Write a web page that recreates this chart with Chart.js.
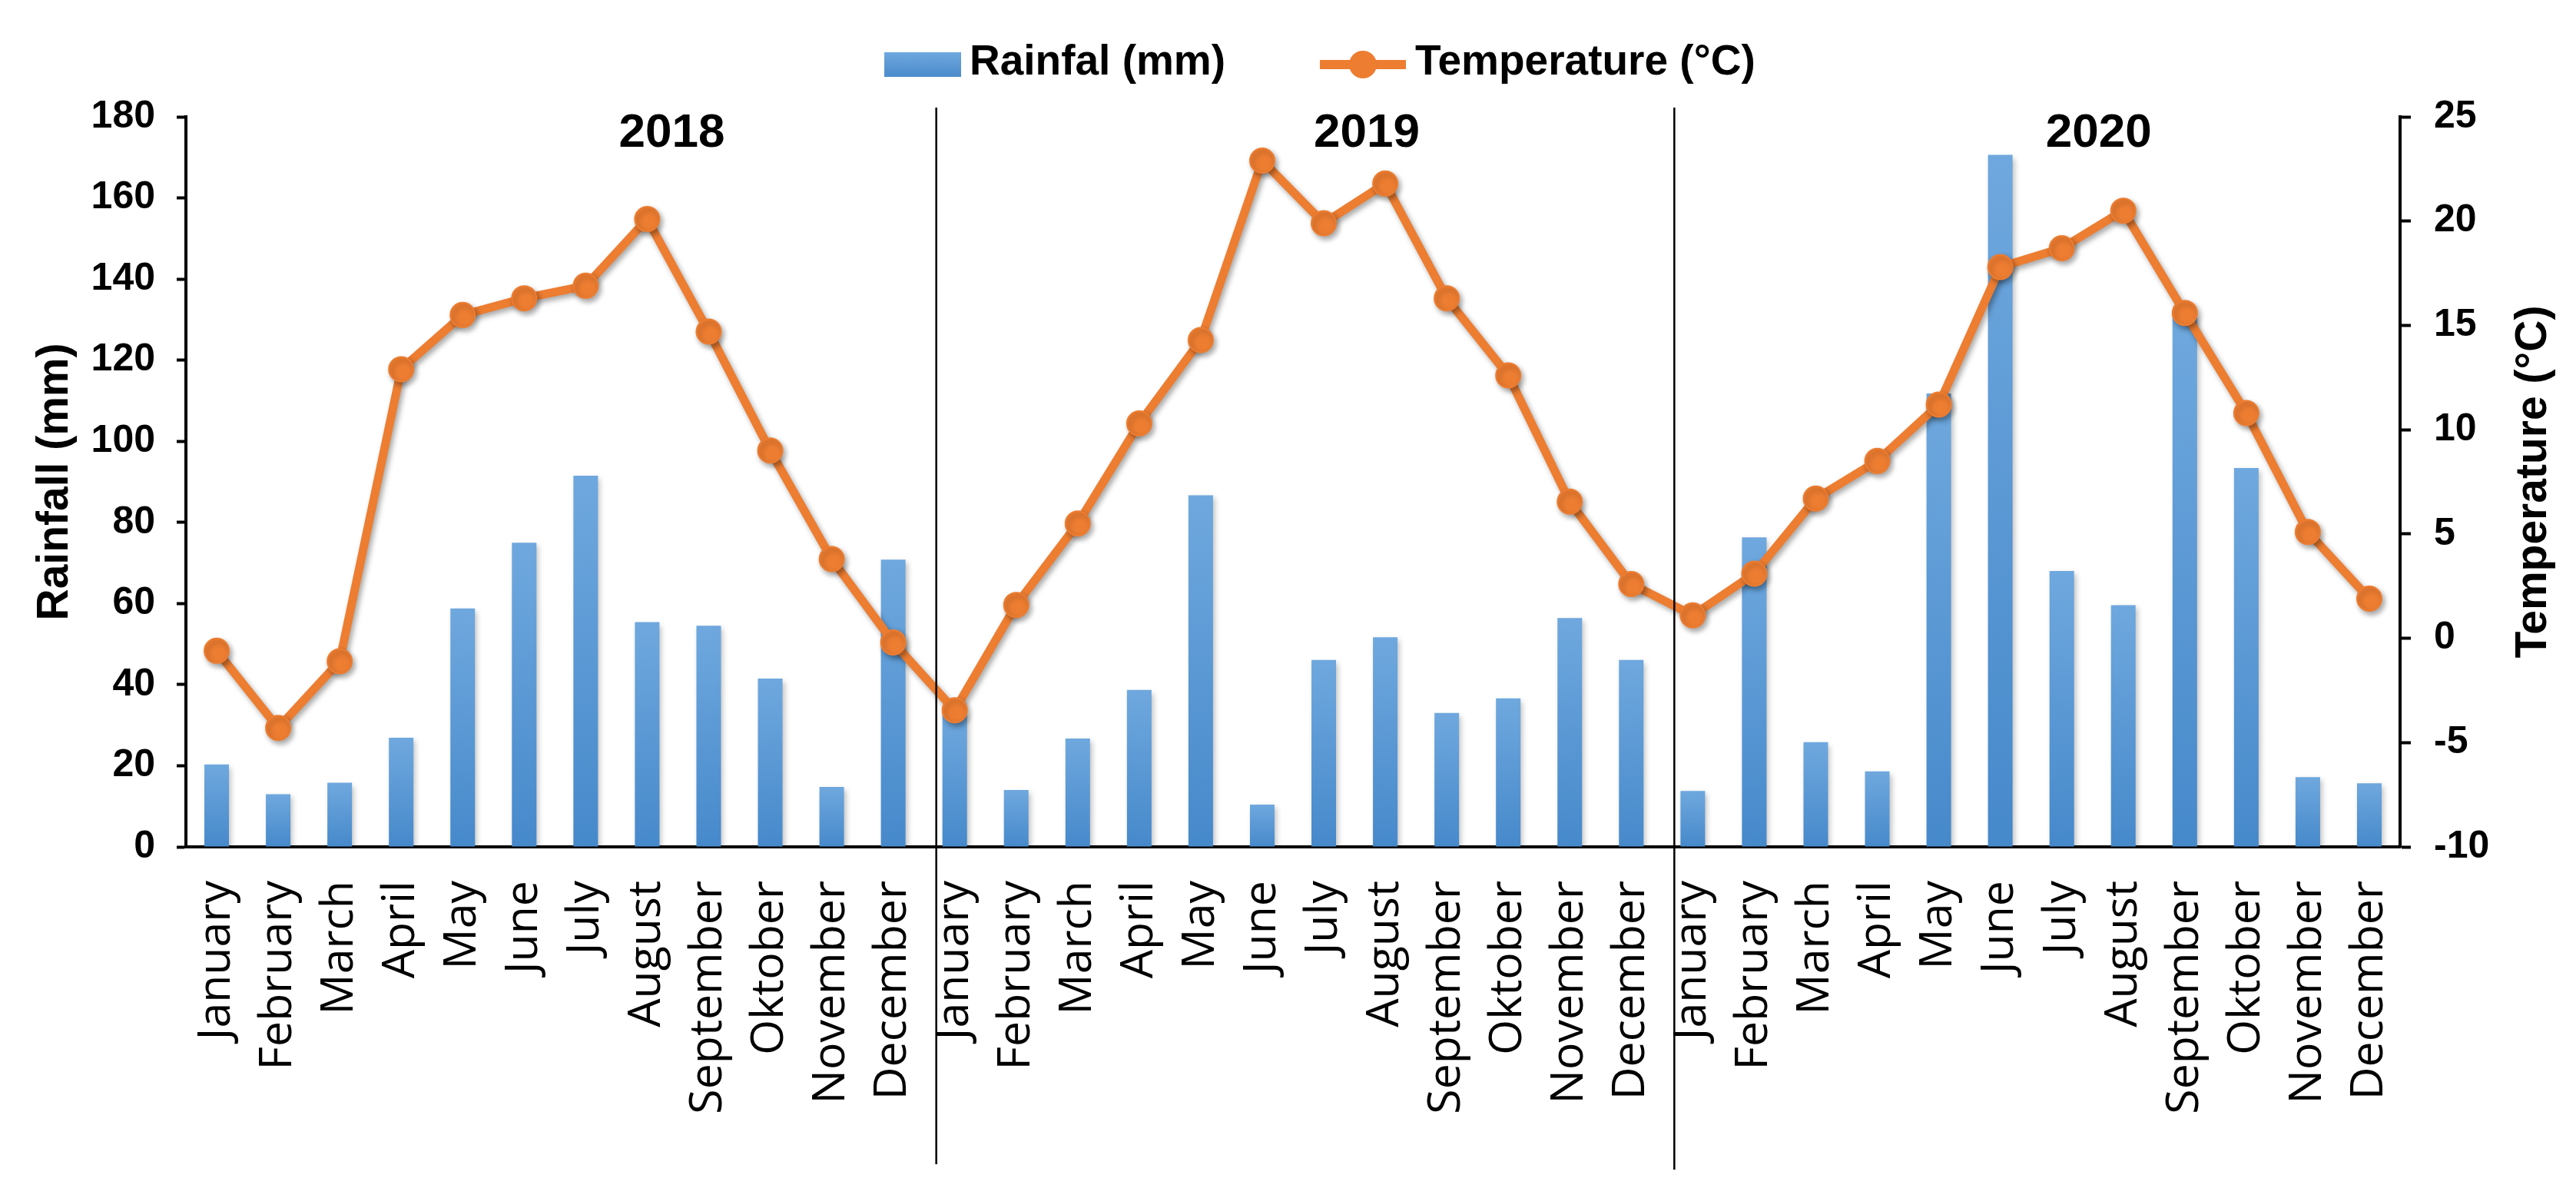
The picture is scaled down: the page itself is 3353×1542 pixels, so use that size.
<!DOCTYPE html>
<html><head><meta charset="utf-8">
<script src="https://cdn.jsdelivr.net/npm/chart.js@4.4.1/dist/chart.umd.min.js"></script>
<style>html,body{margin:0;padding:0;background:#fff;overflow:hidden}canvas{display:block}</style>
</head><body>
<canvas id="c" width="3353" height="1542" style="width:3353px;height:1542px"></canvas>
<script>
// ---- data ----
const months = ['January','February','March','April','May','June','July','August','September','Oktober','November','December'];
const years = ['2018','2019','2020'];
const rainfall2018 = [20.3, 13, 15.8, 26.9, 58.8, 75, 91.5, 55.4, 54.5, 41.5, 14.8, 70.8];
const rainfall2019 = [33, 14, 26.7, 38.7, 86.7, 10.4, 46.1, 51.7, 33, 36.6, 56.4, 46.1];
const rainfall2020 = [13.8, 76.3, 25.8, 18.6, 111.8, 170.6, 68, 59.6, 131, 93.4, 17.2, 15.7];
const temperature2018 = [-0.6, -4.3, -1.1, 12.9, 15.5, 16.3, 16.9, 20.1, 14.7, 9.0, 3.8, -0.2];
const temperature2019 = [-3.45, 1.6, 5.5, 10.3, 14.3, 22.9, 19.9, 21.8, 16.3, 12.6, 6.55, 2.6];
const temperature2020 = [1.1, 3.1, 6.7, 8.5, 11.2, 17.8, 18.7, 20.5, 15.6, 10.8, 5.1, 1.9];
const rainfallLabel = 'Rainfal (mm)';
const temperatureLabel = 'Temperature (°C)';
const leftTitle = 'Rainfall (mm)';
const rightTitle = 'Temperature (°C)';

const categories = years.flatMap(() => months);
const rainfall = [...rainfall2018, ...rainfall2019, ...rainfall2020];
const temperature = [...temperature2018, ...temperature2019, ...temperature2020];

const BOLD = '"Liberation Sans", Arial, sans-serif';
const ORANGE = '#ed7d31';

const shadowPlugin = {
  id: 'shadow',
  beforeDatasetDraw(chart, args) {
    const ctx = chart.ctx; ctx.save();
    ctx.shadowColor = args.index === 1 ? 'rgba(0,0,0,0.35)' : 'rgba(0,0,0,0.25)';
    ctx.shadowBlur = 7; ctx.shadowOffsetX = 3; ctx.shadowOffsetY = 4;
  },
  afterDatasetDraw(chart) { chart.ctx.restore(); }
};

const overlayPlugin = {
  id: 'overlay',
  afterDraw(chart) {
    const ctx = chart.ctx, x = chart.scales.x, ca = chart.chartArea;
    ctx.save();
    // year separators
    ctx.strokeStyle = '#000'; ctx.lineWidth = 2.5;
    [[11.7, 1515], [23.7, 1522]].forEach(([v, bottom]) => {
      const px = x.getPixelForValue(v);
      ctx.beginPath(); ctx.moveTo(px, ca.top - 12); ctx.lineTo(px, bottom); ctx.stroke();
    });
    // year labels
    ctx.fillStyle = '#000'; ctx.textAlign = 'center'; ctx.textBaseline = 'middle';
    ctx.font = 'bold 62px ' + BOLD;
    [7.4, 18.7, 30.6].forEach((v, i) => ctx.fillText(years[i], x.getPixelForValue(v), ca.top + 22));
    // axis titles
    ctx.font = 'bold 57px ' + BOLD;
    const cy = (ca.top + ca.bottom) / 2;
    ctx.save(); ctx.translate(72, cy); ctx.rotate(-Math.PI / 2); ctx.fillText(leftTitle, 0, 0); ctx.restore();
    ctx.save(); ctx.translate(3298, cy); ctx.rotate(-Math.PI / 2); ctx.fillText(rightTitle, 0, 0); ctx.restore();
    // legend
    ctx.font = 'bold 55px ' + BOLD; ctx.textAlign = 'left';
    const g = ctx.createLinearGradient(0, 68, 0, 100);
    g.addColorStop(0, '#6fa8de'); g.addColorStop(1, '#4a8bcb');
    ctx.fillStyle = g; ctx.fillRect(1151, 68, 100, 32);
    ctx.fillStyle = '#000'; ctx.fillText(rainfallLabel, 1262, 82);
    ctx.strokeStyle = ORANGE; ctx.lineWidth = 12;
    ctx.beginPath(); ctx.moveTo(1718, 84); ctx.lineTo(1830, 84); ctx.stroke();
    ctx.fillStyle = ORANGE; ctx.beginPath(); ctx.arc(1774, 84, 18, 0, Math.PI * 2); ctx.fill();
    ctx.fillStyle = '#000'; ctx.fillText(temperatureLabel, 1842, 82);
    ctx.restore();
  }
};

function barFill(c) {
  const chart = c.chart;
  if (!chart.chartArea || c.raw == null) return '#5b9bd5';
  const y = chart.scales.y;
  const top = y.getPixelForValue(c.raw), bot = y.getPixelForValue(0);
  const g = chart.ctx.createLinearGradient(0, top, 0, bot);
  g.addColorStop(0, '#6fa8de'); g.addColorStop(1, '#4689cb');
  return g;
}

new Chart(document.getElementById('c'), {
  data: {
    labels: categories,
    datasets: [
      { type: 'bar', label: rainfallLabel, data: rainfall, yAxisID: 'y', backgroundColor: barFill,
        barPercentage: 0.40, categoryPercentage: 1, order: 2 },
      { type: 'line', label: temperatureLabel, data: temperature, yAxisID: 'y1', borderColor: ORANGE,
        backgroundColor: ORANGE, borderWidth: 11, pointRadius: 16, pointBorderWidth: 2,
        pointBackgroundColor: ORANGE, pointBorderColor: ORANGE, tension: 0, order: 1 }
    ]
  },
  options: {
    responsive: false, animation: false, devicePixelRatio: 1,
    layout: { padding: { top: 152, left: 0, right: 0, bottom: 0 } },
    plugins: { legend: { display: false }, tooltip: { enabled: false }, title: { display: false } },
    scales: {
      x: {
        type: 'category', offset: true,
        grid: { display: false, drawTicks: false },
        border: { display: true, color: '#000', width: 4 },
        ticks: { autoSkip: false, maxRotation: 90, minRotation: 90, padding: 44, color: '#000',
                 font: { family: '"Open Sans", "DejaVu Sans", sans-serif', size: 59 } },
        afterFit(s) { s.height = 440; }
      },
      y: {
        position: 'left', min: 0, max: 180,
        ticks: { stepSize: 20, padding: 28, color: '#000', font: { family: BOLD, weight: 'bold', size: 50 } },
        grid: { drawOnChartArea: false, drawTicks: true, tickLength: 12, tickWidth: 4, tickColor: '#000' },
        border: { color: '#000', width: 4 },
        afterFit(s) { s.width = 242; }
      },
      y1: {
        position: 'right', min: -10, max: 25,
        ticks: { stepSize: 5, padding: 30, color: '#000', font: { family: BOLD, weight: 'bold', size: 50 } },
        grid: { drawOnChartArea: false, drawTicks: true, tickLength: 14, tickWidth: 4, tickColor: '#000' },
        border: { color: '#000', width: 4 },
        afterFit(s) { s.width = 229; }
      }
    }
  },
  plugins: [shadowPlugin, overlayPlugin]
});
</script>
</body></html>
